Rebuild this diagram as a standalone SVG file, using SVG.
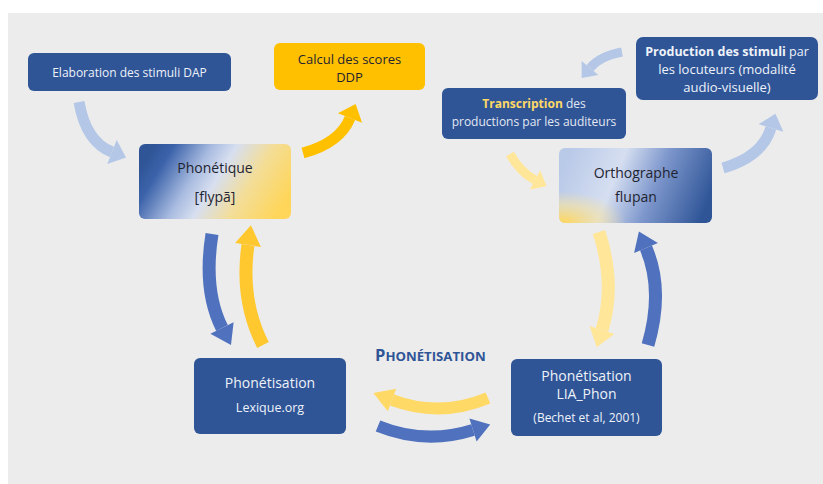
<svg xmlns="http://www.w3.org/2000/svg" width="823" height="484" viewBox="0 0 823 484">
<style>
.box{fill:#2f5597}
.t{font-family:"Open Sans","Liberation Sans",sans-serif;text-anchor:middle}
.w{fill:#eef2f9}
.d{fill:#1f2430}
.arr{fill:none;stroke-linecap:butt}
</style>
<defs>
<linearGradient id="gPhon" x1="0" y1="0.35" x2="1" y2="0.65">
<stop offset="0" stop-color="#2f5597"/>
<stop offset="0.12" stop-color="#3c63aa"/>
<stop offset="0.35" stop-color="#a8bbe0"/>
<stop offset="0.5" stop-color="#d7dff0"/>
<stop offset="0.72" stop-color="#f3dd98"/>
<stop offset="1" stop-color="#ffd659"/>
</linearGradient>
<linearGradient id="gOrth" x1="0" y1="0.4" x2="1" y2="0.6">
<stop offset="0" stop-color="#b9c9e8"/>
<stop offset="0.35" stop-color="#d6dff1"/>
<stop offset="0.62" stop-color="#7f98cd"/>
<stop offset="1" stop-color="#2f5597"/>
</linearGradient>
<radialGradient id="gOrthY" cx="0.02" cy="1" r="0.42">
<stop offset="0" stop-color="#ffd659" stop-opacity="1"/>
<stop offset="0.6" stop-color="#f6e2a0" stop-opacity="0.6"/>
<stop offset="1" stop-color="#f6e2a0" stop-opacity="0"/>
</radialGradient>
<filter id="soft" x="-10%" y="-10%" width="120%" height="120%">
<feGaussianBlur stdDeviation="0.7"/>
</filter>
</defs>
<rect x="0" y="0" width="823" height="484" fill="#ffffff"/>
<rect x="8" y="13" width="815" height="471" fill="#ececec"/>

<g id="connectors" filter="url(#soft)">
<g id="c1"><path class="arr" d="M79,102 Q86,142 112,152" stroke="#b4c7e7" stroke-width="11"/>
<polygon points="107.3,164.1 126,157.4 116.7,139.9" fill="#b4c7e7"/></g>
<g id="c2"><path class="arr" d="M303,153 Q340,143 350,118" stroke="#ffc000" stroke-width="11"/>
<polygon points="362.1,122.8 355.6,104.1 337.9,113.2" fill="#ffc000"/></g>
<g id="c3"><path class="arr" d="M723,168 Q762,157 771,128" stroke="#b4c7e7" stroke-width="11"/>
<polygon points="783.4,131.8 775.4,113.7 758.6,124.2" fill="#b4c7e7"/></g>
<g id="c4"><path class="arr" d="M622,52 Q600,56 590,68" stroke="#b4c7e7" stroke-width="9"/>
<polygon points="581.6,61 581.7,78 598.4,75" fill="#b4c7e7"/></g>
<g id="c5"><path class="arr" d="M510,154 Q520,172 535,180" stroke="#ffe699" stroke-width="9"/>
<polygon points="529.8,189.7 546.5,186.1 540.2,170.3" fill="#ffe699"/></g>
<g id="c6"><path class="arr" d="M212,234 Q203,290 222,328" stroke="#4f71be" stroke-width="13"/>
<polygon points="210.4,333.8 231,345 233.6,322.2" fill="#4f71be"/></g>
<g id="c7"><path class="arr" d="M263,345 Q240,300 248,245" stroke="#ffc82e" stroke-width="13"/>
<polygon points="260.9,246.9 250.9,225.2 235.1,243.1" fill="#ffc82e"/></g>
<g id="c8"><path class="arr" d="M599,232 Q616,285 602,330" stroke="#ffe699" stroke-width="13"/>
<polygon points="589.6,326.1 596.7,347.2 614.4,333.9" fill="#ffe699"/></g>
<g id="c9"><path class="arr" d="M648,345 Q664,290 646,248" stroke="#4f71be" stroke-width="13"/>
<polygon points="657.9,242.9 638.9,231.5 634.1,253.1" fill="#4f71be"/></g>
<g id="c10"><path class="arr" d="M488,398 Q440,418 392,400" stroke="#ffd966" stroke-width="12"/>
<polygon points="396.2,388.8 373.3,393 387.8,411.2" fill="#ffd966"/></g>
<g id="c11"><path class="arr" d="M378,426 Q425,445 473,430" stroke="#4f71be" stroke-width="12"/>
<polygon points="476.6,441.4 490.2,424.6 469.4,418.6" fill="#4f71be"/></g>
</g>

<g id="n-elaboration">
<rect class="box" x="28" y="53" width="203" height="38" rx="6"/>
<text class="t w" x="129.5" y="77" font-size="12">Elaboration des stimuli DAP</text>
</g>

<g id="n-calcul">
<rect x="274" y="43" width="151" height="47" rx="6" fill="#ffc000"/>
<text class="t d" x="349.5" y="64" font-size="13">Calcul des scores</text>
<text class="t d" x="349.5" y="82" font-size="13">DDP</text>
</g>

<g id="n-phonetique">
<rect x="139" y="144" width="152" height="75" rx="6" fill="url(#gPhon)"/>
<text class="t d" x="215" y="173" font-size="14">Phonétique</text>
<text class="t d" x="215" y="202" font-size="14">[flypã]</text>
</g>

<g id="n-transcription">
<rect class="box" x="442" y="88" width="184" height="51" rx="6"/>
<text class="t" x="534" y="108" font-size="12"><tspan fill="#ffd966" font-weight="bold">Transcription</tspan><tspan fill="#e3e8f2"> des</tspan></text>
<text class="t" x="534" y="126" font-size="12" fill="#e3e8f2">productions par les auditeurs</text>
</g>

<g id="n-production">
<rect class="box" x="636" y="37" width="182" height="63" rx="7"/>
<text class="t w" x="727" y="56" font-size="12.5"><tspan font-weight="bold">Production des stimuli</tspan> par</text>
<text class="t w" x="727" y="74" font-size="13">les locuteurs (modalité</text>
<text class="t w" x="727" y="92" font-size="13">audio-visuelle)</text>
</g>

<g id="n-orthographe">
<rect x="559" y="148" width="153" height="75" rx="6" fill="url(#gOrth)"/>
<rect x="559" y="148" width="153" height="75" rx="6" fill="url(#gOrthY)"/>
<text class="t d" x="636" y="178" font-size="14">Orthographe</text>
<text class="t d" x="636" y="202" font-size="14">flupan</text>
</g>

<g id="n-lexique">
<rect class="box" x="194" y="358" width="152" height="76" rx="6"/>
<text class="t w" x="270" y="388" font-size="14">Phonétisation</text>
<text class="t w" x="270" y="412" font-size="12.5">Lexique.org</text>
</g>

<g id="n-lia">
<rect class="box" x="511" y="359" width="151" height="77" rx="6"/>
<text class="t w" x="586.5" y="381" font-size="14">Phonétisation</text>
<text class="t w" x="586.5" y="399" font-size="14">LIA_Phon</text>
<text class="t w" x="586.5" y="422" font-size="12">(Bechet et al, 2001)</text>
</g>

<g id="label-phonetisation">
<text x="375" y="361" font-family="'Open Sans','Liberation Sans',sans-serif" font-weight="bold" fill="#2f5597"><tspan font-size="16.5">P</tspan><tspan font-size="13.2">HONÉTISATION</tspan></text>
</g>
</svg>
